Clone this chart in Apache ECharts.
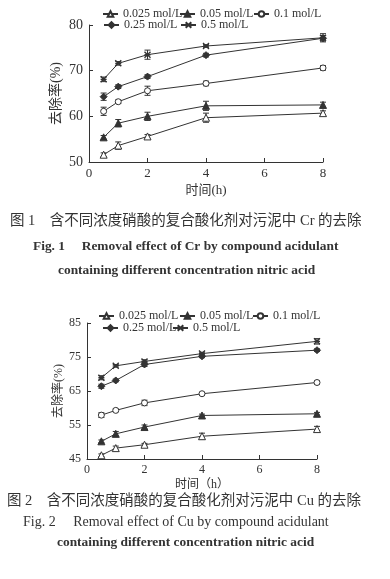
<!DOCTYPE html>
<html>
<head>
<meta charset="utf-8">
<script src="https://cdn.jsdelivr.net/npm/echarts@6/dist/echarts.min.js"></script>
<style>
html,body{margin:0;padding:0;background:#fff;}
#c{width:390px;height:579px;}
</style>
</head>
<body>
<div id="c"></div>
<script>
// ---------- data ----------
const times = [0.5, 1, 2, 4, 8];
const seriesNames = ['0.025 mol/L', '0.05 mol/L', '0.1 mol/L', '0.25 mol/L', '0.5 mol/L'];

// Fig.1  Cr removal (%)
const cr_0025 = [51.6, 53.6, 55.6, 59.7, 60.7];
const cr_005  = [55.4, 58.5, 60.0, 62.3, 62.5];
const cr_01   = [61.1, 63.2, 65.6, 67.2, 70.6];
const cr_025  = [64.3, 66.5, 68.7, 73.4, 77.1];
const cr_05   = [68.1, 71.6, 73.5, 75.4, 77.2];
const crErr_0025 = [0.4, 0.8, 0.4, 1.0, 0.5];
const crErr_005  = [0.4, 0.8, 0.9, 1.0, 0.6];
const crErr_01   = [0.9, 0.4, 1.0, 0.5, 0.5];
const crErr_025  = [0.8, 0.4, 0.4, 0.4, 0.6];
const crErr_05   = [0.5, 0.4, 1.0, 0.3, 0.9];

// Fig.2  Cu removal (%)
const cu_0025 = [46.1, 48.2, 49.2, 51.7, 53.8];
const cu_005  = [50.2, 52.4, 54.4, 57.8, 58.3];
const cu_01   = [57.9, 59.3, 61.5, 64.2, 67.5];
const cu_025  = [66.4, 68.1, 72.8, 75.2, 77.0];
const cu_05   = [68.9, 72.4, 73.7, 76.0, 79.6];
const cuErr_0025 = [0.4, 0.6, 0.4, 0.9, 0.8];
const cuErr_005  = [0.4, 0.7, 0.6, 0.4, 0.4];
const cuErr_01   = [0.7, 0.4, 0.8, 0.4, 0.5];
const cuErr_025  = [0.6, 0.4, 0.6, 0.4, 0.4];
const cuErr_05   = [0.6, 0.4, 0.5, 0.4, 0.8];

// tick labels
const xTicks = [0, 2, 4, 6, 8];
const yTicks1 = [50, 60, 70, 80];
const yTicks2 = [45, 55, 65, 75, 85];

// ---------- styling ----------
const INK = '#333';
const SERIF = '"Liberation Serif", "Noto Sans CJK SC", serif';
const ASTER = 'path://M0,0L10,10M10,0L0,10M0,5L10,5';
const styles = [
  {symbol: 'triangle', fill: '#fff', size: 7},
  {symbol: 'triangle', fill: INK, size: 7},
  {symbol: 'circle', fill: '#fff', size: 6},
  {symbol: 'diamond', fill: INK, size: 7},
  {symbol: ASTER, fill: 'none', size: 6}
];

const crData = [cr_0025, cr_005, cr_01, cr_025, cr_05];
const crErr = [crErr_0025, crErr_005, crErr_01, crErr_025, crErr_05];
const cuData = [cu_0025, cu_005, cu_01, cu_025, cu_05];
const cuErr = [cuErr_0025, cuErr_005, cuErr_01, cuErr_025, cuErr_05];

function lineSeries(idx, vals, axisIdx) {
  const st = styles[idx];
  return {
    name: seriesNames[idx],
    type: 'line',
    xAxisIndex: axisIdx, yAxisIndex: axisIdx,
    data: times.map((t, i) => [t, vals[i]]),
    symbol: st.symbol,
    symbolSize: st.size,
    showAllSymbol: true,
    lineStyle: {color: INK, width: 1},
    itemStyle: {color: st.fill, borderColor: INK, borderWidth: st.symbol === ASTER ? 1.4 : 1},
    z: 3,
    animation: false
  };
}
function errSeries(vals, errs, axisIdx) {
  return {
    type: 'custom',
    xAxisIndex: axisIdx, yAxisIndex: axisIdx,
    data: times.map((t, i) => [t, vals[i] - errs[i], vals[i] + errs[i]]),
    renderItem: function (params, api) {
      const lo = api.coord([api.value(0), api.value(1)]);
      const hi = api.coord([api.value(0), api.value(2)]);
      const w = 3;
      const s = {stroke: INK, lineWidth: 1};
      return {type: 'group', children: [
        {type: 'line', shape: {x1: lo[0], y1: lo[1], x2: hi[0], y2: hi[1]}, style: s},
        {type: 'line', shape: {x1: lo[0] - w, y1: lo[1], x2: lo[0] + w, y2: lo[1]}, style: s},
        {type: 'line', shape: {x1: hi[0] - w, y1: hi[1], x2: hi[0] + w, y2: hi[1]}, style: s}
      ]};
    },
    z: 2,
    silent: true,
    animation: false
  };
}

const series = [];
for (let k = 0; k < 5; k++) {
  series.push(errSeries(crData[k], crErr[k], 0));
  series.push(lineSeries(k, crData[k], 0));
  series.push(errSeries(cuData[k], cuErr[k], 1));
  series.push(lineSeries(k, cuData[k], 1));
}

function xAxisCfg(gridIdx, name, gap, fs) {
  return {
    type: 'value', gridIndex: gridIdx, min: 0, max: 8, interval: 2,
    name: name, nameLocation: 'middle', nameGap: gap,
    nameTextStyle: {fontFamily: SERIF, fontSize: fs, color: INK},
    axisLine: {lineStyle: {color: INK, width: 1}},
    axisTick: {inside: true, length: 4, lineStyle: {color: INK}, customValues: xTicks},
    axisLabel: {fontFamily: SERIF, fontSize: fs, color: INK, margin: 5, customValues: xTicks},
    splitLine: {show: false}
  };
}
function yAxisCfg(gridIdx, min, max, ticks, name, gap, fs) {
  return {
    type: 'value', gridIndex: gridIdx, min: min, max: max,
    name: name, nameLocation: 'middle', nameGap: gap, nameRotate: 90,
    nameMoveOverlap: false,
    nameTextStyle: {fontFamily: SERIF, fontSize: fs, color: INK},
    axisLine: {show: true, lineStyle: {color: INK, width: 1}},
    axisTick: {show: true, inside: true, length: 4, lineStyle: {color: INK}, customValues: ticks},
    axisLabel: {fontFamily: SERIF, fontSize: fs, color: INK, margin: 6, customValues: ticks},
    splitLine: {show: false}
  };
}

const legendPos = [
  // chart 1
  [{l: 102, t: 8}, {l: 179, t: 8}, {l: 253, t: 8}, {l: 103, t: 19}, {l: 180, t: 19}],
  // chart 2
  [{l: 98, t: 310}, {l: 179, t: 310}, {l: 252, t: 310}, {l: 102, t: 322}, {l: 172, t: 322}]
];
const legends = [];
legendPos.forEach(function (arr, gi) {
  arr.forEach(function (p, k) {
    legends.push({
      data: [seriesNames[k]], left: p.l, top: p.t,
      itemWidth: 15, itemHeight: 7, itemGap: 0, padding: 0,
      selectedMode: false,
      textStyle: {fontFamily: SERIF, fontSize: 12, color: INK}
    });
  });
});

const captionStyle = {fontFamily: SERIF, color: INK};
const titles = [
  {text: '图 1　含不同浓度硝酸的复合酸化剂对污泥中 Cr 的去除', left: 10, top: 214,
   textStyle: Object.assign({fontSize: 14.5, fontWeight: 'normal'}, captionStyle)},
  {text: 'Fig. 1　 Removal effect of Cr by compound acidulant', left: 33, top: 240,
   textStyle: Object.assign({fontSize: 13.4, fontWeight: 'bold'}, captionStyle)},
  {text: 'containing different concentration nitric acid', left: 58, top: 264,
   textStyle: Object.assign({fontSize: 13.4, fontWeight: 'bold'}, captionStyle)},
  {text: '图 2　含不同浓度硝酸的复合酸化剂对污泥中 Cu 的去除', left: 7, top: 494,
   textStyle: Object.assign({fontSize: 14.5, fontWeight: 'normal'}, captionStyle)},
  {text: 'Fig. 2　 Removal effect of Cu by compound acidulant', left: 23, top: 515,
   textStyle: Object.assign({fontSize: 14, fontWeight: 'normal'}, captionStyle)},
  {text: 'containing different concentration nitric acid', left: 57, top: 536,
   textStyle: Object.assign({fontSize: 13.4, fontWeight: 'bold'}, captionStyle)}
];
titles.forEach(function (t) { t.padding = 0; });

const chart = echarts.init(document.getElementById('c'), null, {renderer: 'canvas'});
chart.setOption({
  backgroundColor: '#fff',
  animation: false,
  title: titles,
  legend: legends,
  grid: [
    {left: 89, top: 25, width: 234, height: 137},
    {left: 87, top: 323, width: 230, height: 136}
  ],
  xAxis: [xAxisCfg(0, '时间(h)', 22, 13), xAxisCfg(1, '时间（h）', 20, 12)],
  yAxis: [
    yAxisCfg(0, 50, 80, yTicks1, '去除率(%)', 26, 14),
    yAxisCfg(1, 45, 85, yTicks2, '去除率(%)', 22, 12)
  ],
  series: series
});
</script>
</body>
</html>
